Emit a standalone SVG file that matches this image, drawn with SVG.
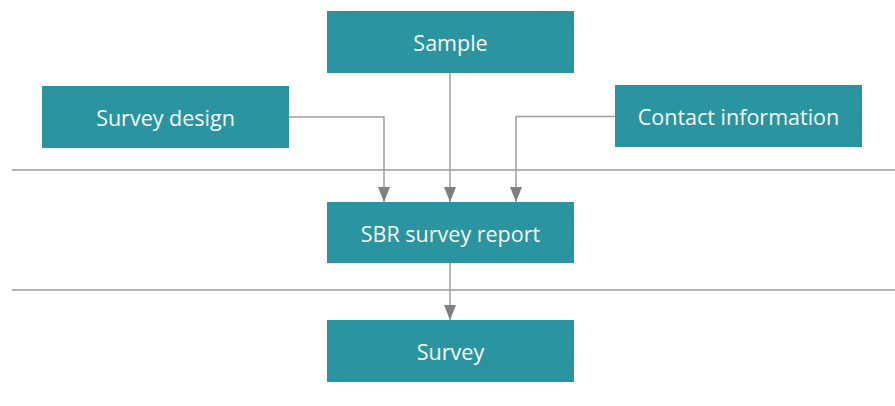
<svg xmlns="http://www.w3.org/2000/svg" width="895" height="406" viewBox="0 0 895 406">
<style>
.box{fill:#2a95a0}
.lbl{fill:#f7f7f7;font-family:"Open Sans","Noto Sans",sans-serif;font-size:21.5px;text-anchor:middle;dominant-baseline:central}
.div{stroke:#9a9a9a;stroke-width:1.5;fill:none}
.con{stroke:#9d9d9d;stroke-width:1.5;fill:none;marker-end:url(#arr)}
</style>
<defs>
<marker id="arr" viewBox="0 0 15 12" refX="15" refY="6" markerWidth="15" markerHeight="12" markerUnits="userSpaceOnUse" orient="auto">
<path d="M0,0 L15,6 L0,12 Z" fill="#7f8084"/>
</marker>
</defs>
<rect width="895" height="406" fill="#fff"/>
<g id="dividers">
<line class="div" x1="12" y1="170" x2="895" y2="170"/>
<line class="div" x1="12" y1="290" x2="895" y2="290"/>
</g>
<g id="connectors">
<path class="con" d="M450,73 V202"/>
<path class="con" d="M289,117 H384 V202"/>
<path class="con" d="M615,116.5 H516 V202"/>
<path class="con" d="M450,263 V320"/>
</g>
<g id="sample"><rect class="box" x="327" y="11" width="247" height="62"/><text class="lbl" x="450.5" y="42">Sample</text></g>
<g id="survey-design"><rect class="box" x="42" y="86" width="247" height="62"/><text class="lbl" x="165.5" y="117">Survey design</text></g>
<g id="contact-information"><rect class="box" x="615" y="85" width="247" height="62"/><text class="lbl" x="738.5" y="116">Contact information</text></g>
<g id="sbr-survey-report"><rect class="box" x="327" y="202" width="247" height="61"/><text class="lbl" x="450.5" y="233">SBR survey report</text></g>
<g id="survey"><rect class="box" x="327" y="320" width="247" height="62"/><text class="lbl" x="450.5" y="351">Survey</text></g>
</svg>
